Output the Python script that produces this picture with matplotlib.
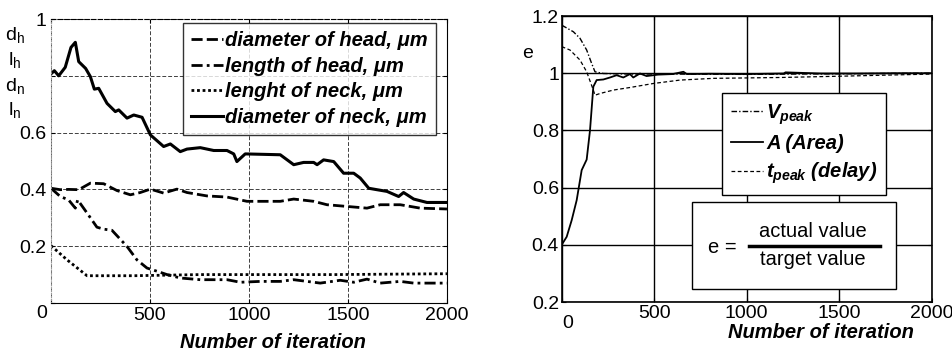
import matplotlib
matplotlib.use("Agg")
import matplotlib.pyplot as plt
from matplotlib.patches import Rectangle
from matplotlib.lines import Line2D

plt.rcParams['font.family'] = ['Liberation Sans', 'DejaVu Sans']
plt.rcParams['mathtext.fontset'] = 'custom'
plt.rcParams['mathtext.rm'] = 'Liberation Sans'
plt.rcParams['mathtext.it'] = 'Liberation Sans:italic:bold'
plt.rcParams['mathtext.bf'] = 'Liberation Sans:bold'

# left panel: spine geometry vs iteration
neck_d_x = [0, 17, 39, 72, 101, 123, 140, 175, 199, 219, 241, 283, 325, 342, 384, 418, 460,
            502, 569, 603, 653, 687, 754, 822, 889, 923, 939, 981, 1158, 1226, 1276, 1327,
            1344, 1377, 1428, 1478, 1529, 1562, 1605, 1646, 1697, 1756, 1781, 1832, 1899, 2000]
neck_d_y = [0.807, 0.818, 0.80, 0.83, 0.90, 0.918, 0.85, 0.826, 0.797, 0.753, 0.756, 0.703,
            0.674, 0.68, 0.651, 0.662, 0.654, 0.592, 0.551, 0.560, 0.533, 0.542, 0.547, 0.537,
            0.537, 0.525, 0.498, 0.525, 0.522, 0.487, 0.495, 0.495, 0.487, 0.504, 0.498, 0.457,
            0.457, 0.44, 0.404, 0.399, 0.393, 0.375, 0.389, 0.366, 0.354, 0.354]

head_d_x = [0, 47, 89, 140, 199, 266, 333, 401, 451, 502, 569, 636, 687, 788, 889, 990, 1158,
            1226, 1327, 1394, 1495, 1596, 1663, 1764, 1865, 2000]
head_d_y = [0.404, 0.399, 0.40, 0.399, 0.422, 0.42, 0.396, 0.381, 0.389, 0.401, 0.387, 0.401,
            0.389, 0.377, 0.373, 0.358, 0.358, 0.366, 0.358, 0.346, 0.34, 0.334, 0.346, 0.346,
            0.334, 0.331]

head_l_x = [0, 47, 89, 123, 135, 182, 232, 266, 308, 384, 434, 485, 539, 586, 653, 754, 889,
            956, 1057, 1158, 1226, 1360, 1461, 1529, 1596, 1663, 1764, 1832, 2000]
head_l_y = [0.404, 0.375, 0.363, 0.334, 0.363, 0.317, 0.267, 0.26, 0.256, 0.199, 0.152, 0.123,
            0.111, 0.10, 0.088, 0.082, 0.082, 0.073, 0.076, 0.076, 0.082, 0.07, 0.08, 0.073,
            0.084, 0.07, 0.076, 0.07, 0.07]

neck_l_x = [0, 81, 182, 418, 754, 1428, 2000]
neck_l_y = [0.202, 0.152, 0.096, 0.096, 0.10, 0.10, 0.103]

# right panel: normalised error e
area_x = [0, 27, 54, 81, 108, 135, 153, 171, 189, 225, 261, 297, 333, 369, 387, 423, 459,
          520, 600, 658, 676, 800, 1000, 1200, 1210, 1400, 1600, 1800, 2000]
area_y = [0.40, 0.428, 0.486, 0.556, 0.661, 0.698, 0.80, 0.953, 0.976, 0.978, 0.985, 0.993,
          0.985, 0.997, 0.985, 0.999, 0.99, 0.995, 0.997, 1.005, 0.997, 0.998, 0.997, 0.999,
          1.003, 0.999, 0.999, 1.0, 1.0]

vpeak_x = [0, 63, 99, 135, 162, 180, 225, 369, 600, 1000, 1500, 2000]
vpeak_y = [1.168, 1.145, 1.122, 1.081, 1.034, 1.005, 0.999, 0.997, 0.997, 0.996, 0.998, 1.0]

tpeak_x = [0, 45, 99, 135, 171, 180, 207, 279, 369, 495, 640, 820, 1180, 1541, 2000]
tpeak_y = [1.093, 1.081, 1.046, 1.005, 0.941, 0.923, 0.929, 0.941, 0.95, 0.964, 0.976,
           0.982, 0.985, 0.99, 0.997]

TICK = 14
LEG = 14.5

fig = plt.figure(figsize=(9.53, 3.51), dpi=100)

# ---- left panel
ax1 = fig.add_axes([0.0535, 0.1368, 0.4155, 0.809])
ax1.plot(head_d_x, head_d_y, color='black', lw=2.0, ls=(0, (4, 1.5)), label='diameter of head, μm')
ax1.plot(head_l_x, head_l_y, color='black', lw=2.0, ls=(0, (4, 1.5, 1, 1.5)), label='length of head, μm')
ax1.plot(neck_l_x, neck_l_y, color='black', lw=2.0, ls=(0, (1, 1)), label='lenght of neck, μm')
ax1.plot(neck_d_x, neck_d_y, color='black', lw=2.2, ls='-', label='diameter of neck, μm')
ax1.set_xlim(0, 2000)
ax1.set_ylim(0, 1)
ax1.set_xticks([0, 500, 1000, 1500, 2000])
ax1.set_xticklabels(['', '500', '1000', '1500', '2000'])
ax1.set_yticks([0, 0.2, 0.4, 0.6, 0.8, 1])
ax1.set_yticklabels(['', '0.2', '0.4', '0.6', '', '1'])
ax1.tick_params(direction='in', length=3, labelsize=TICK, top=True, right=True, pad=3)
ax1.grid(True, color='0.25', ls=(0, (4, 2)), lw=0.7)
ax1.spines['left'].set_color('0.6')
ax1.spines['left'].set_linestyle(':')
ax1.spines['top'].set_linestyle((0, (4, 2)))
ax1.spines['top'].set_linewidth(0.8)
ax1.set_xlabel('Number of iteration', fontsize=LEG, fontweight='bold', style='italic')
ax1.xaxis.set_label_coords(0.56, -0.105)
leg1 = ax1.legend(loc='upper left', bbox_to_anchor=(0.333, 0.985), frameon=True, fancybox=False,
                  prop={'size': LEG, 'weight': 'bold', 'style': 'italic'}, handlelength=1.6,
                  handletextpad=0.1, labelspacing=0.32, borderpad=0.4, borderaxespad=0)
leg1.get_frame().set_edgecolor('black')
leg1.get_frame().set_linewidth(1.0)
fig.text(42 / 953, 1 - 313 / 351, '0', fontsize=TICK, ha='center', va='center')
for lab, ypx in zip([r'$\mathrm{d_h}$', r'$\mathrm{l_h}$', r'$\mathrm{d_n}$', r'$\mathrm{l_n}$'],
                    [35, 60, 86, 110]):
    fig.text(15 / 953, 1 - ypx / 351, lab, fontsize=TICK, ha='center', va='center')

# ---- right panel
ax2 = fig.add_axes([0.5894, 0.1396, 0.3882, 0.8148])
ax2.plot(vpeak_x, vpeak_y, color='black', lw=1.0, ls=(0, (4, 1.5, 1, 1.5)), label=r'$V_{peak}$')
ax2.plot(area_x, area_y, color='black', lw=1.3, ls='-', label='A (Area)')
ax2.plot(tpeak_x, tpeak_y, color='black', lw=0.9, ls=(0, (3, 2)), label=r'$t_{peak}$ (delay)')
ax2.set_xlim(0, 2000)
ax2.set_ylim(0.2, 1.2)
ax2.set_xticks([0, 500, 1000, 1500, 2000])
ax2.set_xticklabels(['', '500', '1000', '1500', '2000'])
ax2.set_yticks([0.2, 0.4, 0.6, 0.8, 1.0, 1.2])
ax2.set_yticklabels(['0.2', '0.4', '0.6', '0.8', '1', '1.2'])
ax2.tick_params(direction='in', length=3, labelsize=TICK, top=True, right=True, pad=2)
ax2.grid(True, color='black', ls='-', lw=1.0)
for s in ax2.spines.values():
    s.set_linewidth(1.2)
ax2.set_xlabel('Number of iteration', fontsize=LEG, fontweight='bold', style='italic')
ax2.xaxis.set_label_coords(0.702, -0.075)
fig.text(568 / 953, 1 - 323 / 351, '0', fontsize=TICK, ha='center', va='center')
fig.text(528 / 953, 1 - 53 / 351, 'e', fontsize=TICK, ha='center', va='center')
leg2 = ax2.legend(loc='upper left', bbox_to_anchor=(0.433, 0.731), frameon=True, fancybox=False,
                  prop={'size': LEG, 'weight': 'bold', 'style': 'italic'}, handlelength=1.6,
                  handletextpad=0.15, labelspacing=0.38, borderpad=0.45, borderaxespad=0,
                  framealpha=1)
leg2.get_frame().set_edgecolor('black')
leg2.get_frame().set_linewidth(1.0)

# formula box
ax2.add_patch(Rectangle((0.352, 0.045), 0.5515, 0.305, transform=ax2.transAxes,
                        facecolor='white', edgecolor='black', lw=1.0, zorder=5))
ax2.text(0.435, 0.192, 'e =', transform=ax2.transAxes, fontsize=LEG, ha='center', va='center', zorder=6)
ax2.text(0.68, 0.248, 'actual value', transform=ax2.transAxes, fontsize=LEG, ha='center', va='center', zorder=6)
ax2.text(0.68, 0.148, 'target value', transform=ax2.transAxes, fontsize=LEG, ha='center', va='center', zorder=6)
ax2.add_line(Line2D([0.506, 0.860], [0.197, 0.197], transform=ax2.transAxes, color='black', lw=2.5, zorder=6))

fig.savefig('out.png', dpi=100)
